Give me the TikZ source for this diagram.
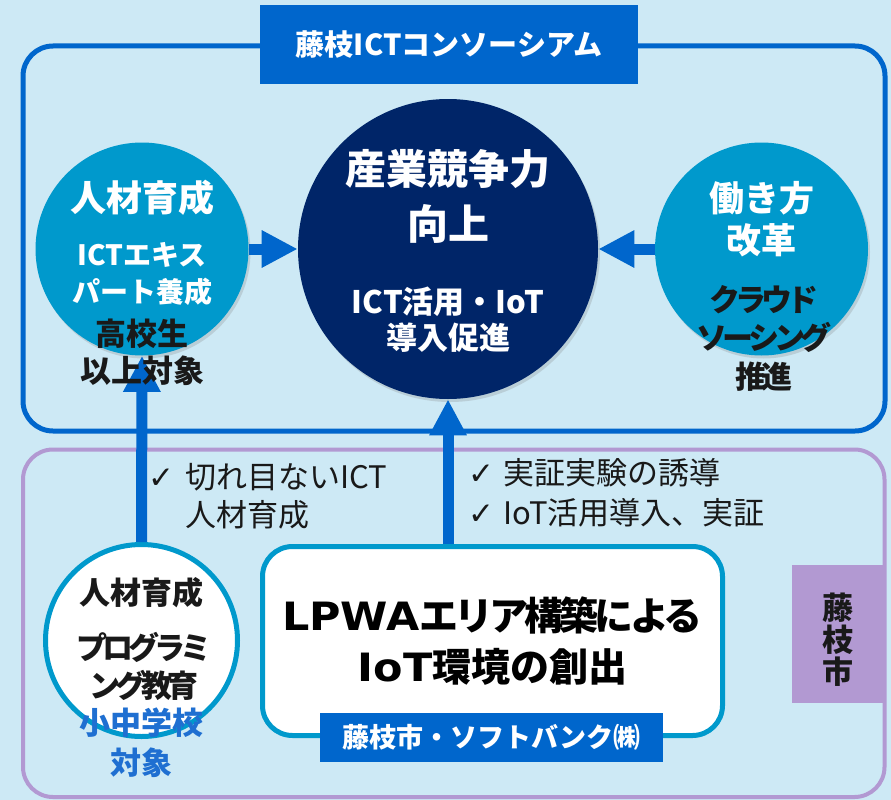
\documentclass[tikz,border=0pt]{standalone}
\usepackage{fontspec}
\setmainfont{Noto Sans CJK JP}
\newfontfamily\jpt{Noto Sans CJK JP}[LetterSpace=-16]
\newfontfamily\jpl{Noto Sans CJK JP}[LetterSpace=-10]
\newfontfamily\latf{DejaVu Sans}[FakeStretch=1.1]
\newfontfamily\symfont{DejaVu Sans}
\usetikzlibrary{positioning,arrows.meta,shadows}
\definecolor{bgblue}{RGB}{205,233,245}
\definecolor{fjblue}{RGB}{0,102,204}
\definecolor{skyblue}{RGB}{0,153,204}
\definecolor{navy}{RGB}{0,37,104}
\definecolor{lilac}{RGB}{178,153,210}
\definecolor{txtblue}{RGB}{31,111,209}
\newcommand{\fsz}[2]{\fontsize{#1pt}{#2pt}\selectfont}
\tikzset{
  every picture/.style={line width=0.6pt},
  frame/.style={draw=fjblue,line width=5pt,rounded corners=30pt},
  cityframe/.style={draw=lilac,line width=4pt,rounded corners=30pt},
  tag/.style={fill=fjblue,text=white,inner sep=0pt,align=center},
  citytag/.style={fill=lilac,inner sep=0pt,minimum width=91pt,minimum height=138pt},
  bigc/.style={circle,fill=skyblue,minimum size=213pt,inner sep=0pt,
    drop shadow={opacity=0.25,shadow xshift=2pt,shadow yshift=-3pt}},
  core/.style={circle,fill=navy,minimum size=300pt,inner sep=0pt,
    drop shadow={opacity=0.25,shadow xshift=2pt,shadow yshift=-3pt}},
  smallc/.style={circle,draw=skyblue,line width=5pt,fill=white,minimum size=192pt,inner sep=0pt},
  wbox/.style={draw=skyblue,line width=5pt,fill=white,rounded corners=30pt,
    minimum width=460pt,minimum height=189pt,align=center,inner sep=0pt},
  fat/.style={-{Triangle[length=36pt,width=35pt]},line width=11pt,draw=fjblue},
  wt/.style={text=white,align=center,inner sep=0pt},
  bt/.style={text=black!90,align=center,inner sep=0pt},
  chk/.style={anchor=west,align=left,inner sep=0pt,text=black!90},
}
\begin{document}
\begin{tikzpicture}[x=1pt,y=-1pt]
\useasboundingbox (0,0) rectangle (891,800);
\fill[bgblue] (0,0) rectangle (891,800);
% --- frames ---
\draw[cityframe] (23,449.5) rectangle (884.5,797);
\node[citytag] (city) at (837.5,634) {};
\draw[frame] (23,46) rectangle (885,431);
\node[tag,minimum width=378pt,minimum height=79pt,font=\bfseries\fsz{29}{32}] (cons) at (449,44.5) {藤枝ICTコンソーシアム};
% --- circles and box ---
\node[bigc] (hr) at (142,249) {};
\node[core] (ind) at (448,249) {};
\node[bigc] (ws) at (761.5,249) {};
\node[smallc] (prog) at (141.5,640.5) {};
\node[wbox,font=\bfseries\fsz{39}{51}] (lpwa) at (492.5,641) {{\latf\bfseries LPWA}{\jpl\bfseries エリア構築による}\\{\latf\bfseries IoT}環境の創出};
\node[tag,minimum width=343pt,minimum height=49pt,font=\bfseries\fsz{27}{30}] (sb) at (491.5,737.5) {藤枝市・ソフトバンク㈱};
% --- arrows ---
\draw[fat] (hr.east) -- (ind.west);
\draw[fat] (ws.west) -- (ind.east);
\draw[fat] (prog.north) -- (hr.south);
\draw[fat] (ind.south |- lpwa.north) -- (ind.south);
% --- texts ---
\node[wt,font=\bfseries\fsz{36}{40}] (hrT) at (142,198) {人材育成};
\node[wt,font=\bfseries\fsz{28}{37}] (hrS) at (142,274) {ICTエキス\\パート養成};
\node[bt,font=\bfseries\fsz{31}{37}] (hrA) at (142,352) {高校生\\以上対象};
\node[wt,font=\bfseries\fsz{41}{55}] (indT) at (448,196) {産業競争力\\向上};
\node[wt,font=\bfseries\fsz{31}{36}] (indS) at (448,320) {ICT活用・IoT\\導入促進};
\node[wt,font=\bfseries\fsz{35}{42}] (wsT) at (761.5,219) {働き方\\改革};
\node[bt,font=\jpt\bfseries\fsz{31}{38.5}] (wsS) at (764,338) {クラウド\\ソーシング\\推進};
\node[bt,font=\bfseries\fsz{31}{38}] (progT) at (141.5,593) {人材育成};
\node[bt,font=\jpt\bfseries\fsz{31}{38}] (progS) at (144,666) {プログラミ\\ング教育};
\node[bt,text=txtblue,font=\bfseries\fsz{31}{40}] (progA) at (141.5,743) {小中学校\\対象};
\node[bt,font=\bfseries\fsz{31}{32}] (cityL) at (837.5,640) {藤\\枝\\市};
\node[chk,font=\fsz{31}{38}] (ck1) at (148,496) {\makebox[37pt][l]{\symfont ✓}切れ目ないICT\\\hspace*{37pt}人材育成};
\node[chk,font=\fsz{31}{40}] (ck2) at (468,493) {\makebox[35pt][l]{\symfont ✓}実証実験の誘導\\\makebox[35pt][l]{\symfont ✓}IoT活用導入、実証};
\end{tikzpicture}
\end{document}
